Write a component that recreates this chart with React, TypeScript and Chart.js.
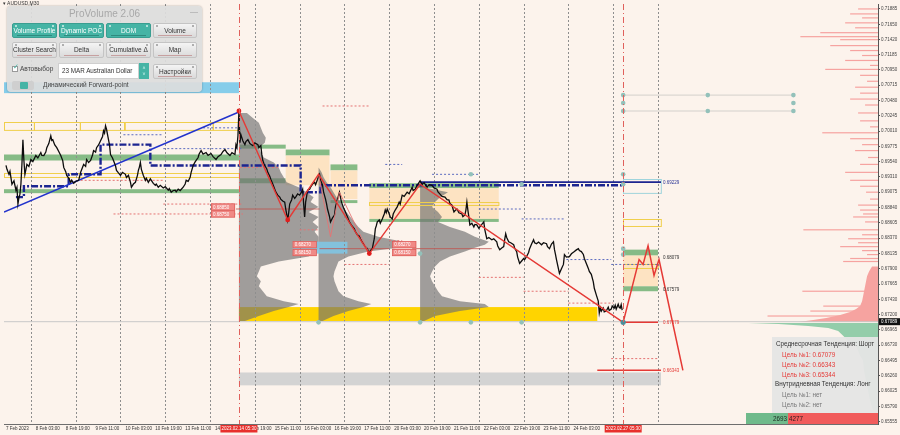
import React, { useEffect, useRef } from "react";
import { Chart, registerables } from "chart.js";
Chart.register(...registerables);

const FONT = "'Liberation Sans', Arial, sans-serif";
const BG = "#fcf3ec";

// ---- axes ----
const xMin = -2;
const xMax = 876;
const yMin = 0.6552;
const yMax = 0.71961;

const xTickPos = [0, 30, 60, 90, 120, 150, 180, 210, 240, 270, 300, 330, 360, 390, 420, 450, 480, 510, 540, 570];
const xTickLabels = [
  "7 Feb 2023", "8 Feb 03:00", "8 Feb 19:00", "9 Feb 11:00", "10 Feb 03:00", "10 Feb 19:00",
  "13 Feb 11:00", "14 Feb 03:00", "14 Feb 19:00", "15 Feb 11:00", "16 Feb 03:00", "16 Feb 19:00",
  "17 Feb 11:00", "20 Feb 03:00", "20 Feb 19:00", "21 Feb 11:00", "22 Feb 03:00", "22 Feb 19:00",
  "23 Feb 11:00", "24 Feb 03:00",
];
const gridDays = [25, 70, 115, 160, 205, 250, 295, 340, 385, 430, 475, 520, 565, 610, 655];
const sessionMarks = [234, 620];
const sessionLabels = ["2023.02.14 05:30", "2023.02.27 05:30"];
const yTickVals = [
  0.71885, 0.7165, 0.7142, 0.71185, 0.7095, 0.70715, 0.7048, 0.70245, 0.7001, 0.69775, 0.6954,
  0.6931, 0.69075, 0.6884, 0.68605, 0.6837, 0.68135, 0.679, 0.67665, 0.6743, 0.672, 0.66965,
  0.6673, 0.66495, 0.6626, 0.66025, 0.6579, 0.65555,
];
const currentPrice = 0.67089;

// ---- price (bar index, price) ----
const price: [number, number][] = [
  [0, 0.69485], [1, 0.69425], [3, 0.69349], [4, 0.69395], [6, 0.69197], [8, 0.69250], [10, 0.69105], [11, 0.69150],
  [12, 0.68893], [13, 0.68990], [14, 0.69045], [15, 0.69200], [16, 0.69501], [17, 0.6988], [18, 0.69560],
  [19, 0.69349], [20, 0.69420], [21, 0.69501], [23, 0.69470], [25, 0.69577], [27, 0.69545], [30, 0.69637],
  [32, 0.69600], [35, 0.69683], [36, 0.69640], [38, 0.69637], [40, 0.69690], [41, 0.69758], [43, 0.69820],
  [45, 0.6994], [46, 0.69870], [47, 0.6988], [49, 0.69800], [51, 0.69758], [53, 0.69700], [55, 0.69637],
  [57, 0.69560], [58, 0.69455], [60, 0.69390], [61, 0.69333], [63, 0.69290], [65, 0.69227], [66, 0.69260],
  [68, 0.69212], [70, 0.69240], [73, 0.69257], [75, 0.69380], [78, 0.69501], [80, 0.69470], [81, 0.69577],
  [83, 0.69530], [85, 0.69562], [87, 0.69650], [88, 0.69713], [90, 0.69690], [91, 0.69758], [93, 0.69800],
  [95, 0.69864], [97, 0.69930], [98, 0.70016], [99, 0.69980], [100, 0.70092], [101, 0.70040], [102, 0.69956],
  [104, 0.69800], [105, 0.69653], [107, 0.69600], [108, 0.69561], [110, 0.69480], [111, 0.69409], [113, 0.69370],
  [115, 0.69333], [117, 0.69380], [120, 0.69349], [121, 0.69300], [123, 0.69333], [125, 0.69230], [126, 0.69151],
  [128, 0.69200], [130, 0.69227], [132, 0.69330], [133, 0.69409], [134, 0.69460], [135, 0.69531], [136, 0.69425],
  [138, 0.69330], [140, 0.69257], [141, 0.69290], [143, 0.69227], [145, 0.69280], [146, 0.69257], [148, 0.69210],
  [150, 0.69181], [151, 0.69200], [153, 0.69151], [155, 0.69180], [158, 0.6914], [160, 0.69160], [163, 0.69105],
  [164, 0.69130], [166, 0.69075], [168, 0.69100], [170, 0.69105], [171, 0.69080], [173, 0.69121], [175, 0.69100],
  [178, 0.69151], [180, 0.69200], [181, 0.69257], [183, 0.69240], [185, 0.69303], [186, 0.69380], [188, 0.69485],
  [190, 0.69540], [193, 0.69607], [194, 0.69660], [196, 0.69713], [198, 0.69660], [201, 0.69683], [203, 0.69640],
  [206, 0.69668], [208, 0.69620], [211, 0.69577], [213, 0.69620], [216, 0.69653], [218, 0.69700], [220, 0.69729],
  [222, 0.69680], [225, 0.69637], [227, 0.69680], [230, 0.69653], [231, 0.69804], [232, 0.69760], [233, 0.6994],
  [234, 0.7032], [235, 0.69834], [236, 0.69956], [238, 0.69860], [240, 0.69804], [241, 0.69850], [243, 0.6988],
  [245, 0.69820], [248, 0.69788], [250, 0.69830], [253, 0.69804], [254, 0.69760], [256, 0.69788], [257, 0.69650],
  [258, 0.69561], [259, 0.69520], [260, 0.69485], [262, 0.69430], [263, 0.69379], [265, 0.69320], [266, 0.69273],
  [268, 0.69200], [270, 0.69121], [271, 0.69080], [273, 0.69029], [275, 0.69000], [276, 0.68969], [278, 0.68940],
  [280, 0.68923], [281, 0.68820], [283, 0.68649], [284, 0.68760], [285, 0.68893], [287, 0.68960], [288, 0.69029],
  [290, 0.68980], [291, 0.68999], [293, 0.69050], [295, 0.69029], [297, 0.69080], [298, 0.69121], [299, 0.68900],
  [300, 0.68695], [301, 0.68923], [302, 0.69010], [303, 0.69105], [305, 0.69120], [306, 0.69151], [308, 0.69200],
  [310, 0.69227], [311, 0.69190], [313, 0.69273], [314, 0.69320], [315, 0.69349], [316, 0.69260], [318, 0.69181],
  [319, 0.69080], [321, 0.68969], [322, 0.68900], [323, 0.68817], [325, 0.68700], [326, 0.68619], [328, 0.68680],
  [330, 0.68725], [331, 0.68850], [333, 0.68969], [334, 0.69020], [335, 0.69075], [336, 0.69000], [337, 0.68923],
  [339, 0.68840], [341, 0.68771], [343, 0.68700], [345, 0.68619], [347, 0.68570], [350, 0.68513], [351, 0.68470],
  [353, 0.68421], [355, 0.68400], [356, 0.68361], [358, 0.68310], [360, 0.68269], [361, 0.68240], [363, 0.68209],
  [364, 0.68170], [365, 0.68133], [366, 0.68180], [368, 0.68209], [369, 0.68290], [370, 0.68361], [371, 0.68513],
  [372, 0.68560], [373, 0.68619], [375, 0.68650], [376, 0.68600], [378, 0.68665], [380, 0.68740], [381, 0.68801],
  [382, 0.68760], [383, 0.68817], [385, 0.68741], [386, 0.68695], [388, 0.68665], [389, 0.68740], [391, 0.68801],
  [393, 0.68850], [395, 0.68923], [396, 0.68890], [398, 0.69029], [400, 0.69010], [403, 0.69075], [405, 0.69050],
  [408, 0.69151], [409, 0.69100], [411, 0.69121], [413, 0.69180], [415, 0.69227], [416, 0.69250], [418, 0.69197],
  [420, 0.69220], [423, 0.69151], [425, 0.69190], [428, 0.69181], [430, 0.69140], [433, 0.69121], [434, 0.69080],
  [436, 0.69045], [438, 0.69010], [441, 0.68999], [443, 0.68960], [445, 0.68953], [446, 0.68900], [448, 0.68877],
  [449, 0.68820], [450, 0.68771], [451, 0.68790], [453, 0.68817], [455, 0.68760], [458, 0.68741], [459, 0.68700],
  [461, 0.68725], [462, 0.68800], [463, 0.68923], [464, 0.68800], [465, 0.68695], [466, 0.68573], [468, 0.68600],
  [470, 0.68543], [471, 0.68580], [473, 0.68573], [475, 0.68520], [476, 0.68543], [478, 0.68580], [480, 0.68619],
  [481, 0.68500], [483, 0.68361], [485, 0.68380], [488, 0.68345], [490, 0.68360], [493, 0.68315], [494, 0.68250],
  [496, 0.68194], [498, 0.68220], [500, 0.6824], [501, 0.68350], [502, 0.68437], [503, 0.68380], [505, 0.68315],
  [507, 0.68300], [510, 0.68269], [511, 0.68220], [513, 0.68164], [514, 0.68080], [516, 0.67982], [518, 0.68020],
  [520, 0.68058], [521, 0.68040], [523, 0.68088], [525, 0.68150], [526, 0.68209], [528, 0.68280], [530, 0.68345],
  [531, 0.68300], [533, 0.68285], [535, 0.68310], [538, 0.68269], [540, 0.68300], [543, 0.68285], [544, 0.68240],
  [546, 0.68209], [548, 0.68280], [550, 0.68315], [551, 0.68194], [552, 0.68120], [553, 0.68042], [555, 0.67900],
  [556, 0.6783], [558, 0.67900], [560, 0.67967], [561, 0.68118], [563, 0.68080], [566, 0.68088], [568, 0.68130],
  [571, 0.68164], [573, 0.68190], [575, 0.68209], [576, 0.68180], [578, 0.68164], [580, 0.68120], [581, 0.68058],
  [583, 0.67980], [585, 0.67906], [586, 0.67860], [588, 0.67815], [590, 0.67700], [591, 0.67602], [593, 0.67500],
  [595, 0.67404], [596, 0.67222], [597, 0.67300], [598, 0.67250], [600, 0.67298], [601, 0.67240], [603, 0.67252],
  [605, 0.67310], [606, 0.67260], [608, 0.67282], [609, 0.67330], [611, 0.67298], [612, 0.67340], [613, 0.67280],
  [615, 0.67358], [616, 0.67310], [617, 0.67298], [618, 0.67350], [619, 0.67267],
];

// ---- drawn studies ----
const trendBlue: [number, number][] = [[-2, 0.68771], [234, 0.70305]];
const zigzagMain: [number, number][] = [[234, 0.7032], [283, 0.68649], [314, 0.69349], [365, 0.68133], [416, 0.69197], [620, 0.67079]];
const zigzagMinor: [number, number][] = [[314, 0.69349], [326, 0.68391], [335, 0.69075], [365, 0.68133]];
const zigzagPivots: [number, number][] = [[234, 0.7032], [283, 0.68649], [365, 0.68133]];
const forecast: [number, number][] = [[620, 0.67079], [636, 0.68042], [640, 0.67967], [645, 0.68254], [651, 0.67799], [656, 0.68042], [680, 0.66343]];
const pocPath: [number, number][] = [
  [10, 0.68999], [18, 0.68999], [18, 0.69166], [63, 0.69166], [63, 0.69349], [95, 0.69349], [95, 0.69804],
  [145, 0.69804], [145, 0.69485], [296, 0.69485], [296, 0.69075], [316, 0.69075], [316, 0.69181], [620, 0.69181],
];

type Level = { x0: number; x1: number; p: number; kind: string };
const levels: Level[] = [
  { x0: 416, x1: 658, p: 0.69229, kind: "navy" },
  { x0: 620, x1: 655, p: 0.67079, kind: "red" },
  { x0: 594, x1: 658, p: 0.66343, kind: "red" },
  { x0: 620, x1: 791, p: 0.70564, kind: "link" },
  { x0: 620, x1: 791, p: 0.7032, kind: "link" },
  { x0: 231, x1: 315, p: 0.68817, kind: "darkred" },
  { x0: 315, x1: 385, p: 0.68209, kind: "darkred" },
  { x0: 408, x1: 488, p: 0.68209, kind: "darkred" },
  { x0: 75, x1: 158, p: 0.69257, kind: "reddot" },
  { x0: 158, x1: 238, p: 0.68893, kind: "reddot" },
  { x0: 108, x1: 238, p: 0.68741, kind: "reddot" },
  { x0: 235, x1: 275, p: 0.69455, kind: "reddot" },
  { x0: 295, x1: 315, p: 0.68498, kind: "reddot" },
  { x0: 318, x1: 365, p: 0.70397, kind: "reddot" },
  { x0: 340, x1: 385, p: 0.67967, kind: "reddot" },
  { x0: 385, x1: 398, p: 0.68331, kind: "reddot" },
  { x0: 475, x1: 520, p: 0.67769, kind: "reddot" },
  { x0: 520, x1: 565, p: 0.67556, kind: "reddot" },
  { x0: 565, x1: 610, p: 0.67374, kind: "reddot" },
  { x0: 608, x1: 655, p: 0.66523, kind: "reddot" },
  { x0: 118, x1: 158, p: 0.69956, kind: "bluedot" },
  { x0: 158, x1: 238, p: 0.69743, kind: "bluedot" },
  { x0: 198, x1: 235, p: 0.70062, kind: "bluedot" },
  { x0: 381, x1: 398, p: 0.69501, kind: "bluedot" },
  { x0: 428, x1: 475, p: 0.69349, kind: "bluedot" },
  { x0: 475, x1: 518, p: 0.68817, kind: "bluedot" },
  { x0: 518, x1: 561, p: 0.68665, kind: "bluedot" },
  { x0: 563, x1: 608, p: 0.68042, kind: "bluedot" },
  { x0: 608, x1: 655, p: 0.67967, kind: "bluedot" },
];
const LEVEL_STYLE: Record<string, { c: string; w: number; d: number[] }> = {
  navy: { c: "#1c2590", w: 1.6, d: [] },
  red: { c: "#e53935", w: 1.5, d: [] },
  link: { c: "#d3d0cc", w: 1, d: [] },
  darkred: { c: "#c0504d", w: 0.8, d: [] },
  reddot: { c: "#e57373", w: 1, d: [2, 2] },
  bluedot: { c: "#5c6bc0", w: 1, d: [2, 2] },
};

const dots: [number, number][] = [
  [620, 0.70564], [620, 0.70442], [620, 0.7032], [705, 0.70564], [705, 0.7032], [791, 0.70564], [791, 0.70442],
  [791, 0.7032], [620, 0.69349], [620, 0.69197], [620, 0.68209], [620, 0.68118], [467, 0.69349], [518, 0.69197],
  [416, 0.68133], [314, 0.67079], [416, 0.67079], [467, 0.67079], [518, 0.67079],
];
const anchorDot: [number, number][] = [[620, 0.67079]];

type Zone = { x0: number; x1: number; p0: number; p1: number; kind: string };
const zones: Zone[] = [
  { x0: -2, x1: 234, p0: 0.70594, p1: 0.70761, kind: "sky" },
  { x0: -2, x1: 234, p0: 0.69561, p1: 0.69653, kind: "green" },
  { x0: -2, x1: 234, p0: 0.6906, p1: 0.69121, kind: "green" },
  { x0: 235, x1: 281, p0: 0.69743, p1: 0.69804, kind: "green" },
  { x0: 235, x1: 281, p0: 0.69212, p1: 0.69288, kind: "green" },
  { x0: 281, x1: 325, p0: 0.69637, p1: 0.69729, kind: "green" },
  { x0: 281, x1: 325, p0: 0.69181, p1: 0.69637, kind: "peach" },
  { x0: 326, x1: 353, p0: 0.69409, p1: 0.69501, kind: "green" },
  { x0: 326, x1: 353, p0: 0.68969, p1: 0.69409, kind: "peach" },
  { x0: 326, x1: 353, p0: 0.68908, p1: 0.68953, kind: "green" },
  { x0: 365, x1: 495, p0: 0.69136, p1: 0.69212, kind: "green" },
  { x0: 365, x1: 495, p0: 0.68665, p1: 0.69136, kind: "peach" },
  { x0: 365, x1: 495, p0: 0.68619, p1: 0.68665, kind: "green" },
  { x0: 620, x1: 655, p0: 0.68103, p1: 0.68194, kind: "green" },
  { x0: 620, x1: 655, p0: 0.67632, p1: 0.68103, kind: "peach" },
  { x0: 620, x1: 655, p0: 0.67556, p1: 0.67632, kind: "green" },
  { x0: 234, x1: 594, p0: 0.671, p1: 0.67313, kind: "gold" },
  { x0: 234, x1: 658, p0: 0.66113, p1: 0.6631, kind: "silver" },
];
const ZONE_FILL: Record<string, string> = {
  sky: "#86cdea", green: "#86bb86", peach: "#fde3c2", gold: "#ffd400", silver: "#d3d3d3",
};
const outlines: Zone[] = [
  { x0: -2, x1: 28, p0: 0.70032, p1: 0.70153, kind: "yellow" },
  { x0: 28, x1: 74, p0: 0.70032, p1: 0.70153, kind: "yellow" },
  { x0: 74, x1: 119, p0: 0.70032, p1: 0.70153, kind: "yellow" },
  { x0: 119, x1: 208, p0: 0.70032, p1: 0.70153, kind: "yellow" },
  { x0: 208, x1: 234, p0: 0.70032, p1: 0.70153, kind: "yellow" },
  { x0: -2, x1: 234, p0: 0.69303, p1: 0.69364, kind: "yellow" },
  { x0: 365, x1: 495, p0: 0.68877, p1: 0.68923, kind: "yellow" },
  { x0: 620, x1: 655, p0: 0.67906, p1: 0.67967, kind: "yellow" },
  { x0: 620, x1: 658, p0: 0.68558, p1: 0.68665, kind: "yellow" },
  { x0: 620, x1: 658, p0: 0.6906, p1: 0.69273, kind: "cyan" },
];
const OUTLINE_COLOR: Record<string, string> = { yellow: "#f0cf4c", cyan: "#9fd4dc" };
const poc2Band: Zone[] = [{ x0: 288, x1: 343, p0: 0.68133, p1: 0.68315, kind: "sky" }];

// ---- session volume profiles ----
const profileLevels = [
  0.7029, 0.70214, 0.70138, 0.70062, 0.69986, 0.6991, 0.69834, 0.69758, 0.69683, 0.69607, 0.69531, 0.69455,
  0.69379, 0.69303, 0.69227, 0.69151, 0.69075, 0.68999, 0.68923, 0.68847, 0.68771, 0.68695, 0.68619, 0.68543,
  0.68467, 0.68391, 0.68315, 0.6827, 0.68224, 0.68164, 0.68088, 0.68012, 0.67936, 0.6786, 0.67784, 0.67708,
  0.67632, 0.67556, 0.6748, 0.67404, 0.67359, 0.67313, 0.67252, 0.67176, 0.671,
];
const profileStarts = [234, 314, 416];
const profile1Vol = [8, 14, 20, 22, 24, 27, 26, 20, 22, 25, 35, 40, 42, 45, 48, 60, 68, 75, 72, 80, 70, 80, 74, 80, 76, 80, 80, 80, 80, 78, 70, 40, 22, 20, 18, 22, 20, 24, 28, 45, 60, 50, 35, 20, 6];
const profile2Vol = [0, 0, 0, 0, 0, 0, 0, 0, 0, 0, 0, 0, 3, 5, 8, 12, 15, 18, 22, 25, 28, 32, 36, 40, 45, 60, 85, 95, 80, 50, 30, 20, 18, 16, 15, 16, 18, 20, 25, 40, 53, 45, 30, 15, 4];
const profile3Vol = [0, 0, 0, 0, 0, 0, 0, 0, 0, 0, 0, 0, 0, 0, 0, 3, 28, 20, 15, 12, 18, 22, 18, 30, 45, 55, 69, 65, 55, 45, 30, 20, 15, 12, 10, 12, 15, 18, 22, 40, 65, 69, 40, 15, 4];

// ---- whole-range profile on the right edge ----
const rightRedSpikes: [number, number][] = [
  [0.71885, 20], [0.71809, 28], [0.71748, 16], [0.71672, 33], [0.71596, 23], [0.71521, 58], [0.7146, 78],
  [0.71414, 38], [0.71323, 48], [0.71247, 28], [0.71171, 16], [0.71095, 33], [0.71019, 8], [0.70958, 53],
  [0.70867, 18], [0.70776, 11], [0.70685, 23], [0.70594, 18], [0.70503, 28], [0.70412, 13], [0.7029, 20],
  [0.70169, 18], [0.70077, 8], [0.69986, 56], [0.69895, 28], [0.69804, 16], [0.69713, 23], [0.69607, 10],
  [0.69501, 18], [0.69379, 33], [0.69257, 28], [0.69166, 18], [0.69075, 12], [0.68969, 8], [0.68877, 20],
  [0.68801, 18], [0.68741, 15], [0.68695, 25], [0.68619, 13], [0.68498, 75], [0.68422, 16], [0.68361, 30],
  [0.683, 20], [0.6824, 38], [0.68179, 16], [0.68118, 11], [0.68058, 28], [0.68012, 35], [0.67556, 76],
  [0.67328, 55], [0.67252, 68], [0.67176, 111],
];
const rightRedBlock: [number, number][] = [
  [0.67936, 6], [0.6786, 9], [0.67784, 11], [0.67708, 12], [0.67632, 13], [0.67556, 14], [0.6748, 15],
  [0.67404, 16], [0.67328, 18], [0.67283, 22], [0.67237, 28], [0.67191, 38], [0.67146, 52], [0.67115, 65], [0.67085, 80],
];
const rightGreenBlock: [number, number][] = [
  [0.6707, 130], [0.67054, 100], [0.67024, 70], [0.66994, 50], [0.66948, 40], [0.66872, 35], [0.66796, 30],
  [0.6672, 22], [0.66645, 20], [0.66569, 18], [0.66493, 15], [0.66341, 14], [0.66189, 12], [0.66037, 10],
  [0.65885, 8], [0.65733, 5],
];

type Tag = { x: number; p: number; text: string; kind: string };
const priceTags: Tag[] = [
  { x: 206, p: 0.68847, text: "0.68850", kind: "box" },
  { x: 206, p: 0.68741, text: "0.68750", kind: "box" },
  { x: 288, p: 0.6827, text: "0.68270", kind: "box" },
  { x: 288, p: 0.68149, text: "0.68150", kind: "box" },
  { x: 388, p: 0.6827, text: "0.68270", kind: "box" },
  { x: 388, p: 0.68149, text: "0.68150", kind: "box" },
  { x: 660, p: 0.69229, text: "0.69229", kind: "navy" },
  { x: 660, p: 0.68079, text: "0.68079", kind: "plain" },
  { x: 660, p: 0.67579, text: "0.67579", kind: "plain" },
  { x: 660, p: 0.67079, text: "0.67079", kind: "red" },
  { x: 660, p: 0.66343, text: "0.66343", kind: "red" },
];

const pts = (a: [number, number][]) => a.map(([x, y]) => ({ x, y }));
const lineDs = (a: [number, number][], color: string, width: number, extra: any = {}) => ({
  data: pts(a), showLine: true, borderColor: color, backgroundColor: color, borderWidth: width,
  pointRadius: 0, fill: false, tension: 0, ...extra,
});

const overlay = {
  id: "overlay",
  beforeDraw(chart: any) {
    const { ctx, width, height } = chart;
    ctx.save();
    ctx.fillStyle = BG;
    ctx.fillRect(0, 0, width, height);
    ctx.restore();
  },
  beforeDatasetsDraw(chart: any) {
    const { ctx, chartArea: a } = chart;
    const xs = chart.scales.x, ys = chart.scales.y;
    const X = (v: number) => xs.getPixelForValue(v);
    const Y = (v: number) => ys.getPixelForValue(v);
    ctx.save();
    ctx.beginPath();
    ctx.rect(a.left, a.top, a.right - a.left, a.bottom - a.top);
    ctx.clip();

    ctx.fillStyle = "#f6a3a0";
    rightRedSpikes.forEach(([p, v]) => {
      const x0 = X(xMax - v);
      ctx.fillRect(x0, Y(p) - 0.6, a.right - x0, 1.2);
    });
    const block = (arr: [number, number][], color: string) => {
      ctx.fillStyle = color;
      ctx.beginPath();
      ctx.moveTo(a.right, Y(arr[0][0]));
      arr.forEach(([p, v]) => ctx.lineTo(X(xMax - v), Y(p)));
      ctx.lineTo(a.right, Y(arr[arr.length - 1][0]));
      ctx.closePath();
      ctx.fill();
    };
    block(rightRedBlock, "#f6a3a0");
    block(rightGreenBlock, "#93cdaa");

    zones.forEach((z) => {
      ctx.fillStyle = ZONE_FILL[z.kind];
      const x0 = X(z.x0), x1 = X(z.x1), y0 = Y(z.p1), y1 = Y(z.p0);
      ctx.fillRect(x0, y0, x1 - x0, y1 - y0);
    });

    const vols = [profile1Vol, profile2Vol, profile3Vol];
    ctx.fillStyle = "rgba(112,112,112,0.66)";
    profileStarts.forEach((s, k) => {
      const v = vols[k];
      ctx.beginPath();
      ctx.moveTo(X(s), Y(profileLevels[0]));
      profileLevels.forEach((p, i) => ctx.lineTo(X(s + v[i]), Y(p)));
      ctx.lineTo(X(s), Y(profileLevels[profileLevels.length - 1]));
      ctx.closePath();
      ctx.fill();
    });
    poc2Band.forEach((z) => {
      ctx.fillStyle = "rgba(126,200,232,0.85)";
      ctx.fillRect(X(z.x0), Y(z.p1), X(z.x1) - X(z.x0), Y(z.p0) - Y(z.p1));
    });

    ctx.lineWidth = 1;
    outlines.forEach((z) => {
      ctx.strokeStyle = OUTLINE_COLOR[z.kind];
      ctx.strokeRect(Math.round(X(z.x0)) + 0.5, Math.round(Y(z.p1)) + 0.5, X(z.x1) - X(z.x0), Y(z.p0) - Y(z.p1));
    });

    ctx.strokeStyle = "#8e8e8e";
    ctx.setLineDash([2, 2]);
    gridDays.forEach((d) => {
      const px = Math.round(X(d)) + 0.5;
      ctx.beginPath();
      ctx.moveTo(px, a.top);
      ctx.lineTo(px, a.bottom);
      ctx.stroke();
    });
    ctx.restore();
  },
  afterDatasetsDraw(chart: any) {
    const { ctx, chartArea: a } = chart;
    const xs = chart.scales.x, ys = chart.scales.y;
    const X = (v: number) => xs.getPixelForValue(v);
    const Y = (v: number) => ys.getPixelForValue(v);
    ctx.save();
    ctx.beginPath();
    ctx.rect(a.left, a.top, a.right - a.left, a.bottom - a.top);
    ctx.clip();
    ctx.strokeStyle = "#e0605c";
    ctx.lineWidth = 1;
    ctx.setLineDash([6, 3, 1, 3]);
    sessionMarks.forEach((m) => {
      const px = Math.round(X(m)) + 0.5;
      ctx.beginPath();
      ctx.moveTo(px, a.top);
      ctx.lineTo(px, a.bottom);
      ctx.stroke();
    });
    ctx.setLineDash([]);
    ctx.font = `4.5px ${FONT}`;
    ctx.textBaseline = "middle";
    priceTags.forEach((t) => {
      const px = X(t.x), py = Y(t.p);
      if (t.kind === "box") {
        ctx.fillStyle = "#f08a86";
        ctx.fillRect(px, py - 3.5, 24, 7);
        ctx.strokeStyle = "#d9534f";
        ctx.lineWidth = 0.6;
        ctx.strokeRect(px + 0.3, py - 3.2, 23.4, 6.4);
        ctx.fillStyle = "#ffffff";
        ctx.fillText(t.text, px + 2, py + 0.3);
      } else {
        ctx.fillStyle = t.kind === "navy" ? "#2a3596" : t.kind === "red" ? "#e53935" : "#333333";
        ctx.fillText(t.text, px, py + 0.3);
      }
    });
    ctx.restore();
  },
  afterDraw(chart: any) {
    const { ctx, chartArea: a } = chart;
    const xs = chart.scales.x, ys = chart.scales.y;
    ctx.save();
    ctx.font = `4.5px ${FONT}`;
    ctx.textBaseline = "middle";
    sessionMarks.forEach((m, i) => {
      const px = xs.getPixelForValue(m);
      ctx.fillStyle = "#e8302c";
      ctx.fillRect(px - 18.5, a.bottom + 1, 37, 7.5);
      ctx.fillStyle = "#ffffff";
      ctx.textAlign = "center";
      ctx.fillText(sessionLabels[i], px, a.bottom + 5);
    });
    const py = ys.getPixelForValue(currentPrice);
    ctx.fillStyle = "#111111";
    ctx.fillRect(a.right + 1, py - 3.5, 21, 7);
    ctx.fillStyle = "#ffffff";
    ctx.textAlign = "left";
    ctx.fillText(currentPrice.toFixed(5), a.right + 3, py + 0.3);
    ctx.restore();
  },
};

const teal = "#45b4a5";
function Btn(props: { l: number; t: number; w: number; h: number; label: string; on?: boolean }) {
  const { l, t, w, h, label, on } = props;
  return (
    <div
      style={{
        position: "absolute", left: l, top: t, width: w, height: h, borderRadius: 2,
        background: on ? teal : "linear-gradient(#f4f4f4,#dadada)",
        border: on ? "1px solid #3a9e91" : "1px solid #c4c4c4", boxSizing: "border-box",
        color: on ? "#ffffff" : "#333333", fontSize: 6.5, lineHeight: `${h - 2}px`, textAlign: "center",
        whiteSpace: "nowrap", overflow: "hidden",
      }}
    >
      <span style={{ position: "absolute", left: 2, top: 1, width: 2, height: 2, borderRadius: 1, background: on ? "#d6f1ec" : "#999" }} />
      <span style={{ position: "absolute", right: 2, top: 1, width: 2, height: 2, borderRadius: 1, background: on ? "#d6f1ec" : "#999" }} />
      <span style={{ position: "absolute", left: 4, right: 4, bottom: 1, height: 1, background: on ? "#2f8a7e" : "#c7a0a0" }} />
      {label}
    </div>
  );
}

export default function App() {
  const ref = useRef<HTMLCanvasElement | null>(null);
  useEffect(() => {
    document.body.style.margin = "0";
    const canvas = ref.current;
    if (!canvas) return;
    const datasets: any[] = [
      { ...lineDs(anchorDot, "#4d8e9a", 0), showLine: false, pointRadius: 2.6, pointBorderWidth: 0, order: -3 },
      { ...lineDs(zigzagPivots, "#e01e1e", 0), showLine: false, pointRadius: 2.4, pointBorderWidth: 0, order: -3 },
      { ...lineDs(dots, "#93c1ba", 0), showLine: false, pointRadius: 2.3, pointBorderWidth: 0, order: -2 },
      { ...lineDs(zigzagMain, "#e53935", 1.4), order: -1 },
      { ...lineDs(forecast, "#e53935", 1.5), order: -1 },
      { ...lineDs(zigzagMinor, "#e57373", 0.9), order: 0 },
      { ...lineDs(price, "#0d0d0d", 1.3), order: 1 },
      { ...lineDs(trendBlue, "#2233cc", 1.5), order: 2 },
      { ...lineDs(pocPath, "#1c2590", 2.4), borderDash: [7, 2, 2, 2], order: 2 },
      { ...lineDs([[xMin, currentPrice], [xMax, currentPrice]], "#c8c8c8", 1), order: 5 },
    ];
    levels.forEach((lv) => {
      const s = LEVEL_STYLE[lv.kind];
      datasets.push({ ...lineDs([[lv.x0, lv.p], [lv.x1, lv.p]], s.c, s.w), borderDash: s.d, order: 3 });
    });

    const chart = new Chart(canvas, {
      type: "scatter",
      data: { datasets },
      options: {
        animation: false,
        responsive: false,
        events: [],
        layout: { padding: 0 },
        plugins: { legend: { display: false }, tooltip: { enabled: false } },
        scales: {
          x: {
            type: "linear", min: xMin, max: xMax, position: "bottom",
            afterBuildTicks: (s: any) => { s.ticks = xTickPos.map((v) => ({ value: v })); },
            afterFit: (s: any) => { s.height = 11; s.paddingLeft = 0; s.paddingRight = 0; },
            ticks: {
              autoSkip: false, maxRotation: 0, minRotation: 0, align: "start", padding: 2,
              font: { size: 4.5, family: FONT }, color: "#333333",
              callback: (_v: any, i: number) => xTickLabels[i],
            },
            grid: { display: false, drawTicks: false, tickLength: 0 },
            border: { display: true, color: "#6e6e6e", width: 1 },
          },
          y: {
            type: "linear", min: yMin, max: yMax, position: "right",
            afterBuildTicks: (s: any) => { s.ticks = yTickVals.map((v) => ({ value: v })); },
            afterFit: (s: any) => { s.width = 22; s.paddingTop = 0; s.paddingBottom = 0; },
            ticks: {
              autoSkip: false, padding: 1, font: { size: 4.5, family: FONT }, color: "#444444",
              callback: (v: any) => Number(v).toFixed(5),
            },
            grid: { drawOnChartArea: false, drawTicks: true, tickLength: 2, color: "#555555" },
            border: { display: true, color: "#555555", width: 1 },
          },
        },
      } as any,
      plugins: [overlay as any],
    });
    return () => chart.destroy();
  }, []);

  const infoLine = (top: number, left: number, color: string, text: string) => (
    <div style={{ position: "absolute", top, left, color, fontSize: 6.3, whiteSpace: "nowrap", lineHeight: "8px" }}>{text}</div>
  );

  return (
    <div style={{ position: "relative", width: 900, height: 435, fontFamily: FONT, overflow: "hidden" }}>
      <canvas ref={ref} width={900} height={435} style={{ display: "block", width: 900, height: 435 }} />
      <div style={{ position: "absolute", left: 3, top: 0, fontSize: 5, color: "#333", whiteSpace: "nowrap" }}>▾ AUDUSD,M30</div>

      <div
        style={{
          position: "absolute", left: 7, top: 6, width: 195, height: 86, borderRadius: 4,
          background: "rgba(221,221,221,0.93)", boxShadow: "0 0 2px rgba(0,0,0,0.35)",
        }}
      >
        <div style={{ position: "absolute", top: 2, left: 0, width: "100%", textAlign: "center", fontSize: 10, color: "#a8a8a8" }}>ProVolume 2.06</div>
        <div style={{ position: "absolute", right: 4, top: 1, fontSize: 8, color: "#9a9a9a" }}>—</div>
        <Btn l={5} t={17} w={45} h={15} label="Volume Profile" on />
        <Btn l={52} t={17} w={45} h={15} label="Dynamic POC" on />
        <Btn l={99} t={17} w={45} h={15} label="DOM" on />
        <Btn l={146} t={17} w={44} h={15} label="Volume" />
        <Btn l={5} t={36} w={45} h={16} label="Cluster Search" />
        <Btn l={52} t={36} w={45} h={16} label="Delta" />
        <Btn l={99} t={36} w={45} h={16} label="Cumulative Δ" />
        <Btn l={146} t={36} w={44} h={16} label="Map" />
        <div style={{ position: "absolute", left: 5, top: 60, width: 6, height: 6, border: "1px solid #999", background: "#fff", boxSizing: "border-box" }} />
        <div style={{ position: "absolute", left: 5.5, top: 57, fontSize: 7, lineHeight: "8px", color: teal }}>✓</div>
        <div style={{ position: "absolute", left: 13, top: 59, fontSize: 6.5, color: "#444" }}>Автовыбор</div>
        <div style={{ position: "absolute", left: 51, top: 57, width: 81, height: 16, background: "#fff", border: "1px solid #cfcfcf", boxSizing: "border-box", fontSize: 6.3, lineHeight: "14px", paddingLeft: 3, color: "#333", whiteSpace: "nowrap" }}>
          23 MAR Australian Dollar
        </div>
        <div style={{ position: "absolute", left: 132, top: 57, width: 10, height: 16, background: teal, color: "#e8fffb", fontSize: 5, lineHeight: "6px", textAlign: "center", paddingTop: 2, boxSizing: "border-box" }}>
          ˄<br />˅
        </div>
        <Btn l={146} t={58} w={44} h={15} label="Настройки" />
        <div style={{ position: "absolute", left: 5, top: 75, width: 22, height: 9, borderRadius: 2, background: "#cfcfcf" }}>
          <div style={{ position: "absolute", left: 8, top: 1, width: 8, height: 7, borderRadius: 1, background: teal }} />
        </div>
        <div style={{ position: "absolute", left: 36, top: 75, fontSize: 6.5, color: "#444", whiteSpace: "nowrap" }}>Динамический Forward-point</div>
      </div>

      <div style={{ position: "absolute", left: 772, top: 337, width: 106, height: 76, background: "rgba(229,229,229,0.95)" }}>
        {infoLine(3, 4, "#333333", "Среднесрочная Тенденция: Шорт")}
        {infoLine(14, 10, "#e53935", "Цель №1: 0.67079")}
        {infoLine(24, 10, "#e53935", "Цель №2: 0.66343")}
        {infoLine(34, 10, "#e53935", "Цель №3: 0.65344")}
        {infoLine(43, 3, "#333333", "Внутридневная Тенденция: Лонг")}
        {infoLine(54, 10, "#777777", "Цель №1: нет")}
        {infoLine(64, 10, "#777777", "Цель №2: нет")}
      </div>
      <div style={{ position: "absolute", left: 746, top: 413, width: 42, height: 11, background: "#6fba8b", fontSize: 6.3, lineHeight: "11px", textAlign: "right", color: "#1e2a22", paddingRight: 1, boxSizing: "border-box" }}>2693</div>
      <div style={{ position: "absolute", left: 788, top: 413, width: 90, height: 11, background: "#f15b5b", fontSize: 6.3, lineHeight: "11px", color: "#2a1a1a", paddingLeft: 1, boxSizing: "border-box" }}>4277</div>
    </div>
  );
}
